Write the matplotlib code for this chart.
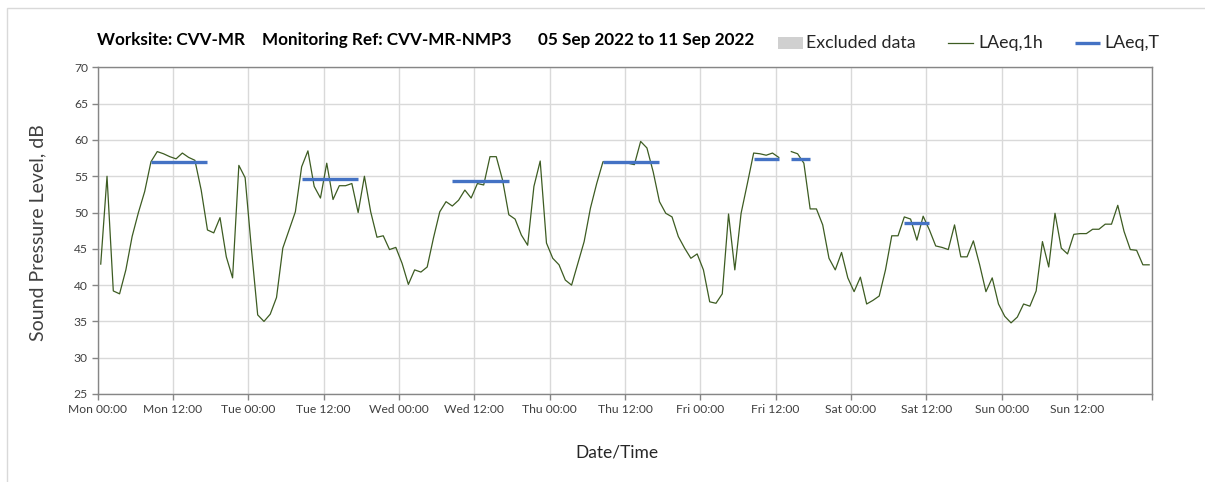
import numpy as np
import matplotlib
matplotlib.use("Agg")
import matplotlib.pyplot as plt
from matplotlib.patches import Rectangle
from matplotlib.lines import Line2D

# ---------------- data ----------------
days = ["Mon", "Tue", "Wed", "Thu", "Fri", "Sat", "Sun"]
nan = np.nan
laeq_mon = [42.9, 55.0, 39.2, 38.8, 42.1, 46.7, 50.0, 52.9, 57.0, 58.4, 58.1, 57.7,
            57.4, 58.2, 57.6, 57.2, 53.1, 47.6, 47.2, 49.3, 43.9, 41.0, 56.5, 54.8]
laeq_tue = [45.0, 35.9, 35.0, 36.0, 38.3, 45.1, 47.6, 50.1, 56.3, 58.5, 53.6, 52.0,
            56.8, 51.8, 53.7, 53.7, 54.0, 50.0, 55.0, 50.1, 46.6, 46.8, 44.9, 45.2]
laeq_wed = [43.0, 40.1, 42.1, 41.8, 42.5, 46.5, 50.1, 51.5, 50.9, 51.7, 53.1, 52.0,
            54.0, 53.8, 57.7, 57.7, 54.5, 49.7, 49.1, 46.9, 45.5, 53.6, 57.1, 45.8]
laeq_thu = [43.7, 42.8, 40.7, 40.0, 43.0, 46.0, 50.6, 54.0, 57.0, 57.0, 56.9, 56.9,
            56.8, 56.6, 59.8, 58.9, 55.6, 51.5, 49.9, 49.4, 46.7, 45.1, 43.7, 44.3]
laeq_fri = [42.1, 37.7, 37.5, 38.8, 49.8, 42.1, 49.9, 54.0, 58.2, 58.1, 57.9, 58.2,
            57.6, nan, 58.4, 58.1, 56.8, 50.5, 50.5, 48.3, 43.7, 42.1, 44.5, 41.0]
laeq_sat = [39.1, 41.1, 37.4, 37.9, 38.5, 42.1, 46.8, 46.8, 49.4, 49.1, 46.2, 49.5,
            47.6, 45.4, 45.2, 44.9, 48.3, 43.9, 43.9, 46.1, 42.8, 39.1, 41.0, 37.4]
laeq_sun = [35.7, 34.8, 35.6, 37.4, 37.1, 39.2, 46.0, 42.5, 49.9, 45.1, 44.3, 47.0,
            47.1, 47.1, 47.7, 47.7, 48.4, 48.4, 51.0, 47.4, 44.9, 44.8, 42.8, 42.8]

# LAeq,T periods (hour index from Mon 00:00, first and last hour) and value
laeqT_start = [8, 32, 56, 80, 104, 110, 128]
laeqT_end = [17, 41, 65, 89, 108, 113, 132]
laeqT_value = [57.0, 54.6, 54.3, 57.0, 57.4, 57.4, 48.6]

tick_labels = [f"{d} {t}" for d in days for t in ("00:00", "12:00")] + [""]

# ---------------- figure ----------------
W, H = 1205, 482
fig = plt.figure(figsize=(W / 100, H / 100), dpi=100)
fig.patch.set_facecolor("white")

font = ["Lato", "DejaVu Sans"]
plt.rcParams["font.family"] = font

# outer chart frame
fig.add_artist(Rectangle((7 / W, -0.01), 1.1, (H - 8) / H + 0.01, transform=fig.transFigure,
                         fill=False, edgecolor="#d9d9d9", linewidth=1.0))

L, R, T, B = 97.6, 1152.3, 67.4, 394.0
ax = fig.add_axes([L / W, 1 - B / H, (R - L) / W, (B - T) / H])

laeq = np.array(laeq_mon + laeq_tue + laeq_wed + laeq_thu + laeq_fri + laeq_sat + laeq_sun)
hours = np.arange(len(laeq)) + 0.5
ax.plot(hours, laeq, color="#3d5c22", linewidth=0.9, zorder=3)

for s, e, v in zip(laeqT_start, laeqT_end, laeqT_value):
    ax.plot([s + 0.5, e + 0.5], [v, v], color="#4472c4", linewidth=2.4,
            solid_capstyle="butt", zorder=4)

ax.set_xlim(0, 168)
ax.set_ylim(25, 70)
ax.set_xticks(np.arange(0, 169, 12))
ax.set_xticklabels(tick_labels)
ax.set_yticks(np.arange(25, 71, 5))
ax.grid(True, color="#d9d9d9", linewidth=1.0)
ax.set_axisbelow(True)
for sp in ax.spines.values():
    sp.set_color("#868686")
    sp.set_linewidth(1.0)
ax.tick_params(axis="both", direction="out", length=4, width=1, color="#868686",
               labelsize=8.7, labelcolor="#404040", pad=3)

fig.text(38 / W, 1 - 233 / H, "Sound Pressure Level, dB", rotation=90, ha="center",
         va="center", fontsize=14, color="#404040")
fig.text(617 / W, 1 - 452 / H, "Date/Time", ha="center", va="center",
         fontsize=12.5, color="#262626")

# title parts
ty = 1 - 40 / H
tfs = 12.3
fig.text(97 / W, ty, "Worksite: CVV-MR", ha="left", va="center", fontsize=tfs,
         fontweight="bold", color="black")
fig.text(262 / W, ty, "Monitoring Ref: CVV-MR-NMP3", ha="left", va="center", fontsize=tfs,
         fontweight="bold", color="black")
fig.text(538 / W, ty, "05 Sep 2022 to 11 Sep 2022", ha="left", va="center", fontsize=tfs,
         fontweight="bold", color="black")

# legend (manual)
ly = 1 - 43 / H
lfs = 12.8
fig.add_artist(Rectangle((778 / W, 1 - 49 / H), 25 / W, 12 / H, transform=fig.transFigure,
                         facecolor="#d0d0d0", edgecolor="none"))
fig.text(806 / W, ly, "Excluded data", ha="left", va="center", fontsize=lfs, color="#262626")
fig.add_artist(Line2D([948 / W, 973 / W], [ly, ly], transform=fig.transFigure,
                      color="#3d5c22", linewidth=0.9))
fig.text(978 / W, ly, "LAeq,1h", ha="left", va="center", fontsize=lfs, color="#262626")
fig.add_artist(Line2D([1075 / W, 1100 / W], [ly, ly], transform=fig.transFigure,
                      color="#4472c4", linewidth=2.4, solid_capstyle="butt"))
fig.text(1104 / W, ly, "LAeq,T", ha="left", va="center", fontsize=lfs, color="#262626")

fig.savefig("out.png", dpi=100, facecolor="white")
